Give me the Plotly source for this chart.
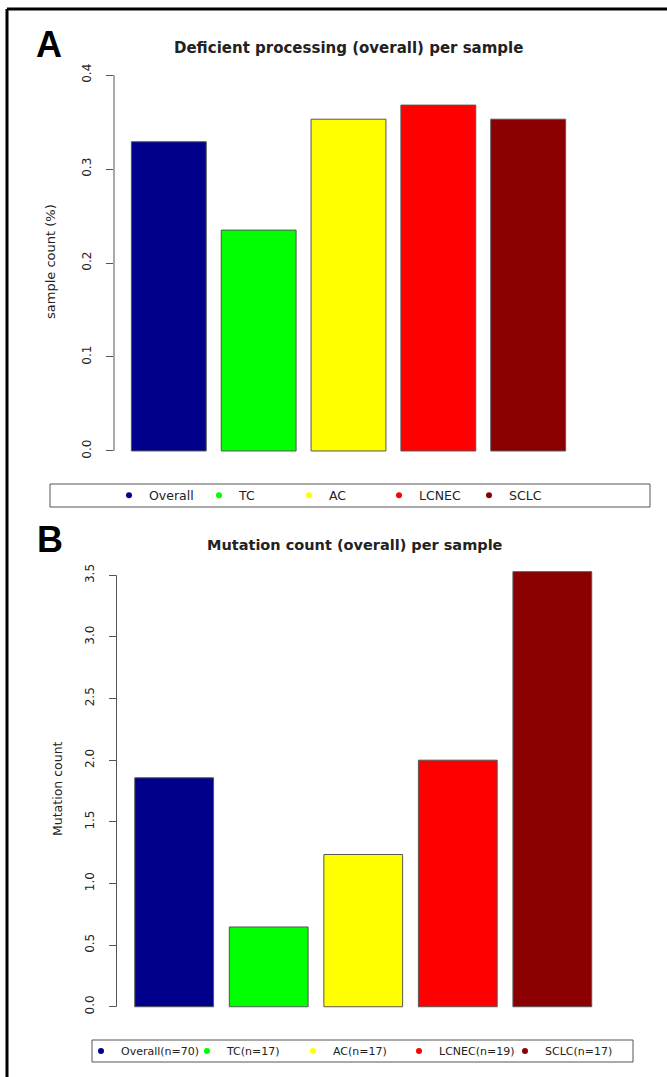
import plotly.graph_objects as go

W, H = 667, 1077

categories = ["Overall", "TC", "AC", "LCNEC", "SCLC"]
colors = ["#00008B", "#00FF00", "#FFFF00", "#FF0000", "#8B0000"]

# Panel A: deficient processing fraction per sample
deficient_frac = [0.329, 0.235, 0.353, 0.368, 0.353]
legend_a_labels = ["Overall", "TC", "AC", "LCNEC", "SCLC"]
ticks_a = [0.0, 0.1, 0.2, 0.3, 0.4]
ticktext_a = ["0.0", "0.1", "0.2", "0.3", "0.4"]

# Panel B: mutation count per sample
mutation_count = [1.857, 0.647, 1.235, 2.0, 3.529]
legend_b_labels = ["Overall(n=70)", "TC(n=17)", "AC(n=17)", "LCNEC(n=19)", "SCLC(n=17)"]
ticks_b = [0.0, 0.5, 1.0, 1.5, 2.0, 2.5, 3.0, 3.5]
ticktext_b = ["0.0", "0.5", "1.0", "1.5", "2.0", "2.5", "3.0", "3.5"]


def px(x):
    return x / W


def py(y):
    return 1 - y / H


FONT = "DejaVu Sans"
TXT = "#222222"
EDGE = "#555555"

fig = go.Figure()

fig.add_trace(go.Bar(
    x=categories, y=deficient_frac, marker=dict(color=colors, line=dict(color=EDGE, width=1)),
    showlegend=False, xaxis="x", yaxis="y", hoverinfo="x+y"))
fig.add_trace(go.Bar(
    x=categories, y=mutation_count, marker=dict(color=colors, line=dict(color=EDGE, width=1)),
    showlegend=False, xaxis="x2", yaxis="y2", hoverinfo="x+y"))

for i, (lab, c) in enumerate(zip(legend_a_labels, colors)):
    fig.add_trace(go.Scatter(x=[None], y=[None], mode="markers", name=lab,
                             marker=dict(color=c, size=6), xaxis="x", yaxis="y",
                             legend="legend",
                             legendwidth=(70 if i == len(colors) - 1 else None)))
for i, (lab, c) in enumerate(zip(legend_b_labels, colors)):
    fig.add_trace(go.Scatter(x=[None], y=[None], mode="markers", name=lab,
                             marker=dict(color=c, size=6), xaxis="x2", yaxis="y2",
                             legend="legend2",
                             legendwidth=(90 if i == len(colors) - 1 else None)))

xa_dom = [px(114), px(583)]
xb_dom = [px(116.5), px(610)]
ya_dom = [py(466), py(60)]
yb_dom = [py(1024), py(558)]

common_x = dict(showticklabels=False, showgrid=False, zeroline=False, showline=False,
                ticks="", range=[-0.61, 4.61], fixedrange=True)
common_y = dict(showgrid=False, zeroline=False, showline=False, ticks="outside",
                ticklen=7, tickwidth=1, tickcolor=EDGE, tickangle=-90,
                tickfont=dict(family=FONT, size=12, color=TXT), ticklabelstandoff=10)

fig.update_layout(
    width=W, height=H, margin=dict(l=0, r=0, t=0, b=0),
    paper_bgcolor="white", plot_bgcolor="white",
    bargap=1 - 1 / 1.2,
    xaxis=dict(domain=xa_dom, anchor="y", **common_x),
    yaxis=dict(domain=ya_dom, anchor="x", range=[-0.016, 0.416],
               tickvals=ticks_a, ticktext=ticktext_a, **common_y),
    xaxis2=dict(domain=xb_dom, anchor="y2", **common_x),
    yaxis2=dict(domain=yb_dom, anchor="x2", range=[-0.14, 3.64],
                tickvals=ticks_b, ticktext=ticktext_b, **common_y),
    legend=dict(orientation="h", x=px(109), y=py(495.5), xanchor="left", yanchor="middle",
                entrywidth=45, entrywidthmode="pixels", bgcolor="rgba(0,0,0,0)",
                font=dict(family=FONT, size=12.5, color=TXT), borderwidth=0),
    legend2=dict(orientation="h", x=px(81), y=py(1051), xanchor="left", yanchor="middle",
                 entrywidth=61, entrywidthmode="pixels", bgcolor="rgba(0,0,0,0)",
                 font=dict(family=FONT, size=11, color=TXT), borderwidth=0),
    showlegend=True,
)

shapes = [
    # outer frame (top and left)
    dict(type="line", xref="paper", yref="paper", x0=px(7), x1=1, y0=py(9), y1=py(9),
         line=dict(color="black", width=3)),
    dict(type="line", xref="paper", yref="paper", x0=px(7), x1=px(7), y0=py(9), y1=0,
         line=dict(color="black", width=3)),
    # y axis lines spanning first to last tick
    dict(type="line", xref="paper", yref="y", x0=xa_dom[0], x1=xa_dom[0],
         y0=ticks_a[0], y1=ticks_a[-1], line=dict(color=EDGE, width=1)),
    dict(type="line", xref="paper", yref="y2", x0=xb_dom[0], x1=xb_dom[0],
         y0=ticks_b[0], y1=ticks_b[-1], line=dict(color=EDGE, width=1)),
    # legend boxes
    dict(type="rect", xref="paper", yref="paper", x0=px(50), x1=px(650), y0=py(507), y1=py(484),
         line=dict(color=EDGE, width=1)),
    dict(type="rect", xref="paper", yref="paper", x0=px(92), x1=px(633), y0=py(1062), y1=py(1040),
         line=dict(color=EDGE, width=1)),
]
fig.update_layout(shapes=shapes)

ann = [
    dict(text="<b>A</b>", x=px(49), y=py(44), font=dict(family="Liberation Sans", size=36, color="black")),
    dict(text="<b>B</b>", x=px(50), y=py(539), font=dict(family="Liberation Sans", size=36, color="black")),
    dict(text="<b>Deficient processing (overall) per sample</b>", x=px(348), y=py(48),
         font=dict(family=FONT, size=15, color=TXT)),
    dict(text="<b>Mutation count (overall) per sample</b>", x=px(355), y=py(545),
         font=dict(family=FONT, size=14.5, color=TXT)),
    dict(text="sample count (%)", x=px(50), y=py(262), textangle=-90,
         font=dict(family=FONT, size=13, color=TXT)),
    dict(text="Mutation count", x=px(57), y=py(789), textangle=-90,
         font=dict(family=FONT, size=12.5, color=TXT)),
]
for a in ann:
    a.update(xref="paper", yref="paper", showarrow=False, xanchor="center", yanchor="middle")
fig.update_layout(annotations=ann)

fig.write_html("out.html")
